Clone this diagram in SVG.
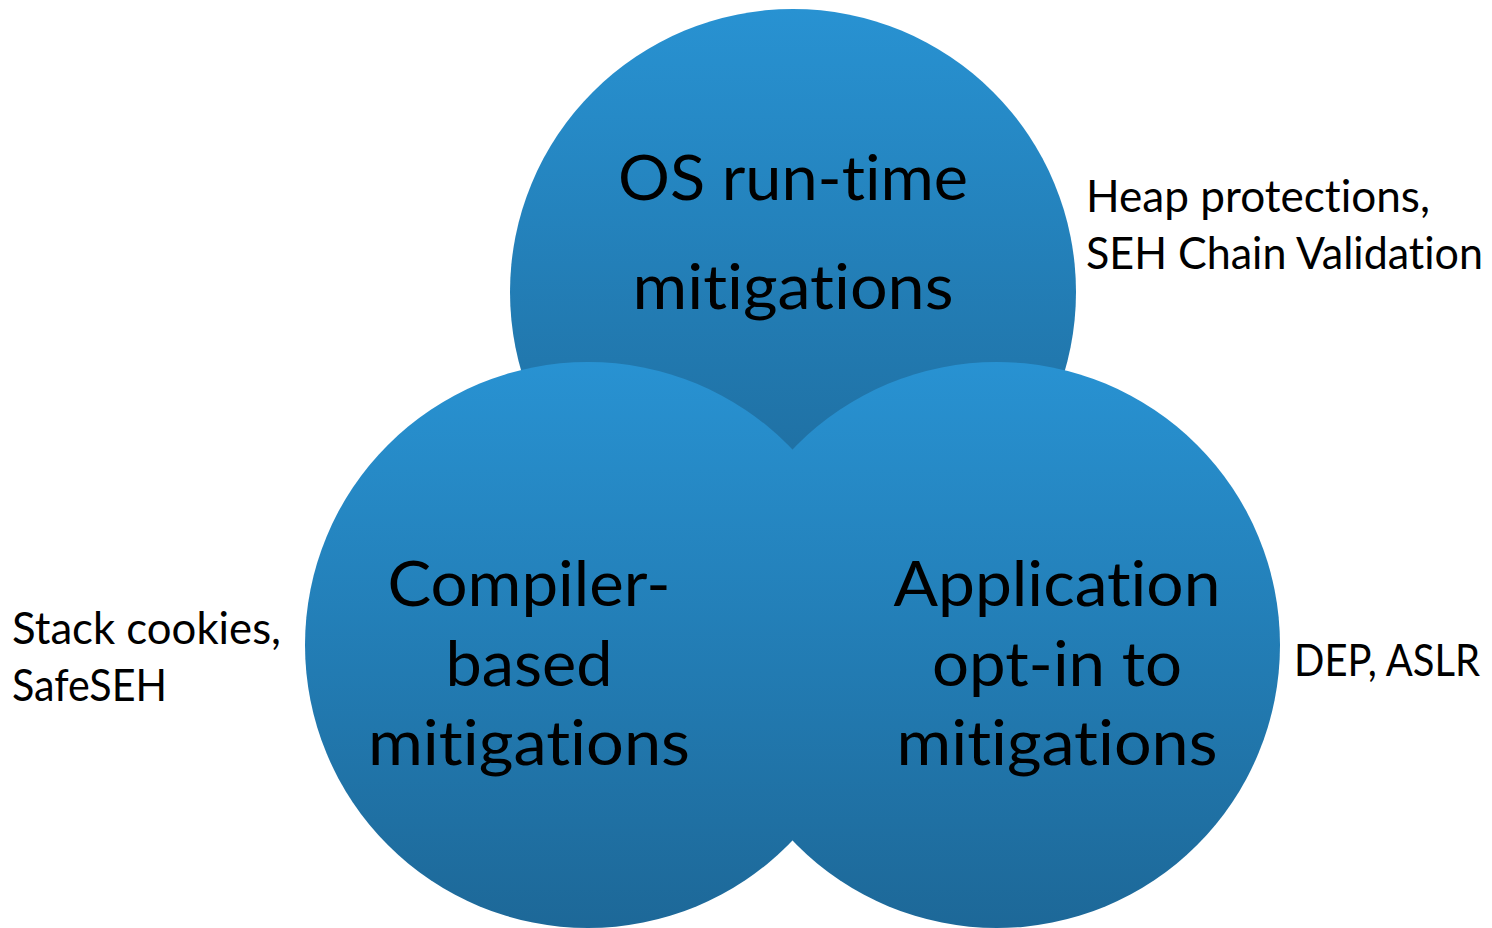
<svg xmlns="http://www.w3.org/2000/svg" width="1492" height="928" viewBox="0 0 1492 928">
  <defs>
    <linearGradient id="disc" x1="0" y1="0" x2="0" y2="1">
      <stop offset="0" stop-color="#2892d2"/>
      <stop offset="1" stop-color="#1d6898"/>
    </linearGradient>
    <style>
      .disc { fill: url(#disc); }
      text { font-variant-ligatures: none; font-feature-settings: "liga" 0, "clig" 0; }
      .big { font-family: Lato, "Open Sans", "DejaVu Sans", sans-serif; font-size: 62px; fill: #000; text-anchor: middle; }
      .note { font-family: Lato, "Open Sans", "DejaVu Sans", sans-serif; font-size: 44px; fill: #000; }
    </style>
  </defs>
  <rect width="1492" height="928" fill="#ffffff"/>

  <g id="os-runtime">
    <circle class="disc" cx="793" cy="292" r="283"/>
  </g>
  <g id="compiler-based">
    <circle class="disc" cx="588" cy="645" r="283"/>
  </g>
  <g id="application-opt-in">
    <circle class="disc" cx="997" cy="645" r="283"/>
  </g>

  <g id="os-runtime-label">
    <text class="big" x="793" y="200" textLength="350" lengthAdjust="spacingAndGlyphs">OS run-time</text>
    <text class="big" x="793" y="309" textLength="321" lengthAdjust="spacingAndGlyphs">mitigations</text>
  </g>
  <g id="compiler-based-label">
    <text class="big" x="529" y="606" textLength="283" lengthAdjust="spacingAndGlyphs">Compiler-</text>
    <text class="big" x="529" y="686" textLength="167" lengthAdjust="spacingAndGlyphs">based</text>
    <text class="big" x="529" y="765" textLength="322" lengthAdjust="spacingAndGlyphs">mitigations</text>
  </g>
  <g id="application-opt-in-label">
    <text class="big" x="1057" y="606" textLength="327" lengthAdjust="spacingAndGlyphs">Application</text>
    <text class="big" x="1057" y="686" textLength="250" lengthAdjust="spacingAndGlyphs">opt-in to</text>
    <text class="big" x="1057" y="765" textLength="321" lengthAdjust="spacingAndGlyphs">mitigations</text>
  </g>

  <g id="os-runtime-examples">
    <text class="note" x="1086" y="212" textLength="344" lengthAdjust="spacingAndGlyphs">Heap protections,</text>
    <text class="note" x="1086" y="269" textLength="397" lengthAdjust="spacingAndGlyphs">SEH Chain Validation</text>
  </g>
  <g id="compiler-based-examples">
    <text class="note" x="12" y="644" textLength="269" lengthAdjust="spacingAndGlyphs">Stack cookies,</text>
    <text class="note" x="12" y="701" textLength="155" lengthAdjust="spacingAndGlyphs">SafeSEH</text>
  </g>
  <g id="application-opt-in-examples">
    <text class="note" x="1294" y="676" textLength="186" lengthAdjust="spacingAndGlyphs">DEP, ASLR</text>
  </g>

  <g id="connectors"/>
</svg>
